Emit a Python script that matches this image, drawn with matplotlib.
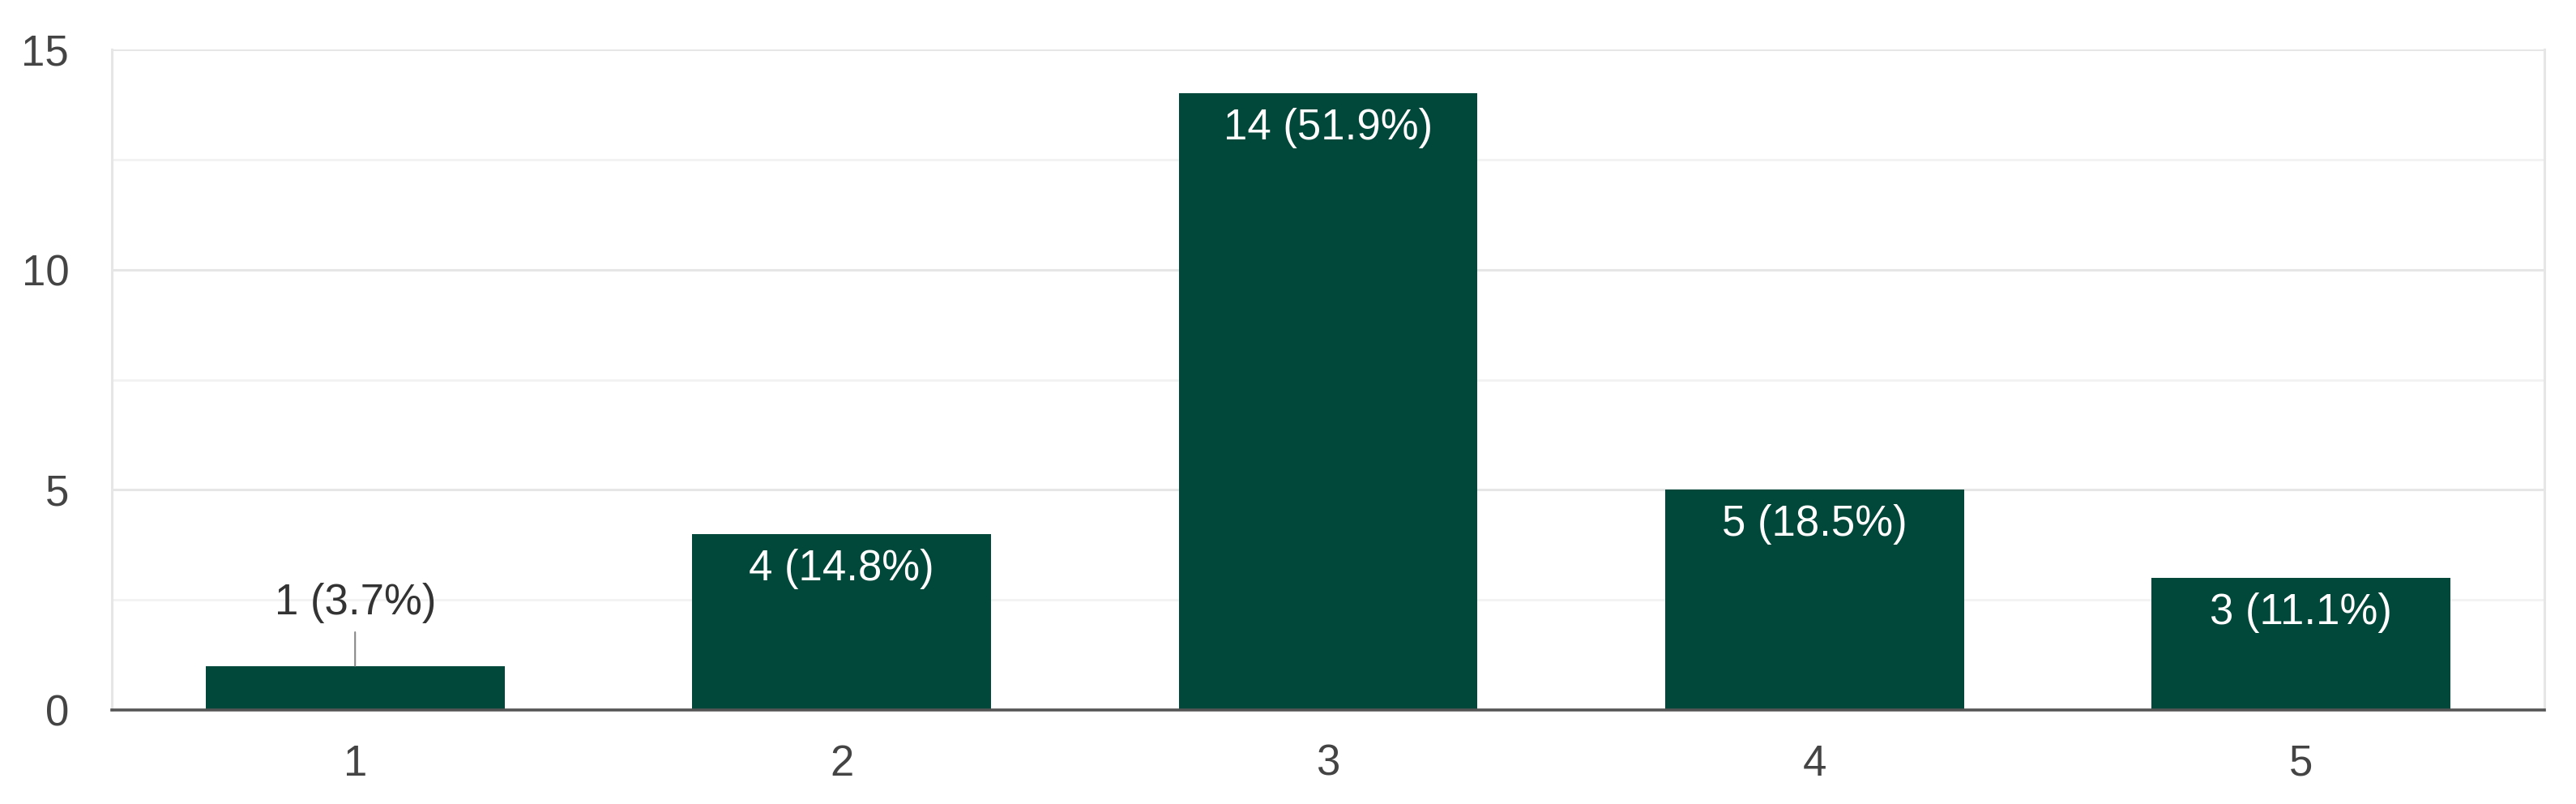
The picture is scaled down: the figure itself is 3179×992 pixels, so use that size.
import matplotlib
matplotlib.use("Agg")
import matplotlib.pyplot as plt
from matplotlib.ticker import MultipleLocator

categories = ["1", "2", "3", "4", "5"]
counts = [1, 4, 14, 5, 3]
percents = [3.7, 14.8, 51.9, 18.5, 11.1]
y_ticks = [0, 5, 10, 15]

plt.rcParams['font.family'] = ['Liberation Sans', 'DejaVu Sans']

W, H, DPI = 3179, 992, 100
fig = plt.figure(figsize=(W / DPI, H / DPI), dpi=DPI)
ax = fig.add_axes([138 / W, 1 - 876 / H, (3140 - 138) / W, (876 - 61) / H])

bar_color = "#01473a"
x = list(range(1, len(categories) + 1))
bars = ax.bar(x, counts, width=0.614, color=bar_color, zorder=3)

ax.set_xlim(0.5, 5.5)
ax.set_ylim(0, 15)
ax.set_yticks(y_ticks)
ax.yaxis.set_minor_locator(MultipleLocator(2.5))
ax.set_xticks(x)
ax.set_xticklabels(categories)

ax.grid(axis='y', which='major', color='#e6e6e6', linewidth=2.2, zorder=0)
ax.grid(axis='y', which='minor', color='#f2f2f2', linewidth=2.0, zorder=0)
ax.tick_params(axis='both', which='both', length=0, labelsize=38, labelcolor='#444444')
ax.tick_params(axis='y', pad=38)
ax.tick_params(axis='x', pad=30)

for side in ['left', 'right']:
    ax.spines[side].set_color('#e6e6e6')
    ax.spines[side].set_linewidth(2.2)
ax.spines['top'].set_visible(False)
ax.spines['bottom'].set_color('#555555')
ax.spines['bottom'].set_linewidth(2.6)
ax.spines['bottom'].set_zorder(4)

for xi, c, p in zip(x, counts, percents):
    label = f"{c} ({p}%)"
    if c >= 2:
        ax.annotate(label, xy=(xi, c), xytext=(0, -13), textcoords='offset points',
                    ha='center', va='top', fontsize=38, color='white', zorder=5)
    else:
        ax.annotate(label, xy=(xi, c), xytext=(0, 38), textcoords='offset points',
                    ha='center', va='bottom', fontsize=38, color='#333333', zorder=5,
                    arrowprops=dict(arrowstyle='-', color='#888888', lw=1.5,
                                    shrinkA=6, shrinkB=0))

fig.savefig("out.png", dpi=DPI)
